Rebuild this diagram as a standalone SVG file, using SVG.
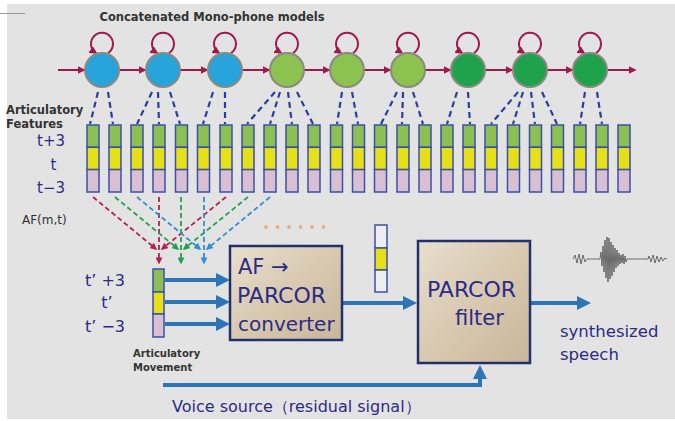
<svg xmlns="http://www.w3.org/2000/svg" xmlns:xlink="http://www.w3.org/1999/xlink" width="675" height="421" viewBox="0 0 675 421">
<style>
.st{stroke:#8a8a80;stroke-width:2}
.blue{fill:#28a4dd}.lg{fill:#8cc24f}.dg{fill:#1fa24c}
.loop{fill:none;stroke:#9e1a4c;stroke-width:2}
.hm{fill:none;stroke:#9e1a4c;stroke-width:2}
.dl{fill:none;stroke:#2b3f9e;stroke-width:2.2;stroke-dasharray:6 4}
.xr{fill:none;stroke:#b5234d;stroke-width:1.8;stroke-dasharray:5 3}
.xg{fill:none;stroke:#22a055;stroke-width:1.8;stroke-dasharray:5 3}
.xb{fill:none;stroke:#2f8fcf;stroke-width:1.8;stroke-dasharray:5 3}
.ba{fill:none;stroke:#2e75b6;stroke-width:4}
.cg{fill:#8cc052}.cy{fill:#e6e019}.cp{fill:#d8c0d2}.cw{fill:#eeeeee}
.bs{stroke:#3b50a8;stroke-width:1.5}
.nav{font-family:"DejaVu Sans","Liberation Sans",sans-serif;fill:#2b2b86}
.lab{font-family:"DejaVu Sans","Liberation Sans",sans-serif;font-weight:bold;fill:#333}
.box{stroke:#22306e;stroke-width:2.5;fill:url(#tan)}
</style>
<defs>
<linearGradient id="tan" x1="0" y1="0" x2="1" y2="1">
<stop offset="0" stop-color="#e8dfcf"/>
<stop offset="0.5" stop-color="#d8c9b0"/>
<stop offset="1" stop-color="#c9b699"/>
</linearGradient>
<marker id="am" markerUnits="userSpaceOnUse" markerWidth="8" markerHeight="8" viewBox="0 0 10 10" refX="8" refY="5" orient="auto"><path d="M0,0 L10,5 L0,10 z" fill="#9e1a4c"/></marker>
<marker id="ar" markerUnits="userSpaceOnUse" markerWidth="7" markerHeight="7" viewBox="0 0 10 10" refX="8" refY="5" orient="auto"><path d="M0,0 L10,5 L0,10 z" fill="#b5234d"/></marker>
<marker id="ag" markerUnits="userSpaceOnUse" markerWidth="7" markerHeight="7" viewBox="0 0 10 10" refX="8" refY="5" orient="auto"><path d="M0,0 L10,5 L0,10 z" fill="#22a055"/></marker>
<marker id="ab" markerUnits="userSpaceOnUse" markerWidth="7" markerHeight="7" viewBox="0 0 10 10" refX="8" refY="5" orient="auto"><path d="M0,0 L10,5 L0,10 z" fill="#2f8fcf"/></marker>
<marker id="abig" markerUnits="userSpaceOnUse" markerWidth="14" markerHeight="14" viewBox="0 0 14 14" refX="1" refY="7" orient="auto"><path d="M0,0 L14,7 L0,14 z" fill="#2e75b6"/></marker>
<g id="afbar">
<rect class="cg bs" x="0" y="125" width="12" height="22.3"/>
<rect class="cy bs" x="0" y="147.3" width="12" height="22.3"/>
<rect class="cp bs" x="0" y="169.6" width="12" height="22.4"/>
</g>
</defs>
<rect x="0" y="0" width="675" height="421" fill="#ffffff"/>
<rect x="7" y="4" width="668" height="415" fill="#e3e3e3"/>
<line x1="0" y1="13.5" x2="25" y2="13.5" stroke="#999" stroke-width="1"/>

<text class="lab" x="212" y="21" font-size="11.5" text-anchor="middle" fill="#444">Concatenated Mono-phone models</text>

<g id="connectors">
<path class="hm" marker-end="url(#am)" d="M58,70 L84,70"/>
<path class="hm" marker-end="url(#am)" d="M119,70 L145,70"/>
<path class="hm" marker-end="url(#am)" d="M180,70 L207,70"/>
<path class="hm" marker-end="url(#am)" d="M242,70 L269,70"/>
<path class="hm" marker-end="url(#am)" d="M304,70 L329,70"/>
<path class="hm" marker-end="url(#am)" d="M364,70 L390,70"/>
<path class="hm" marker-end="url(#am)" d="M425,70 L450,70"/>
<path class="hm" marker-end="url(#am)" d="M485,70 L512,70"/>
<path class="hm" marker-end="url(#am)" d="M547,70 L572,70"/>
<path class="hm" marker-end="url(#am)" d="M607,70 L635,70"/>
<path class="loop" marker-end="url(#am)" d="M108,53 A11 11 0 1 0 96,53"/>
<path class="loop" marker-end="url(#am)" d="M169,53 A11 11 0 1 0 157,53"/>
<path class="loop" marker-end="url(#am)" d="M231,53 A11 11 0 1 0 219,53"/>
<path class="loop" marker-end="url(#am)" d="M293,53 A11 11 0 1 0 281,53"/>
<path class="loop" marker-end="url(#am)" d="M353,53 A11 11 0 1 0 341,53"/>
<path class="loop" marker-end="url(#am)" d="M414,53 A11 11 0 1 0 402,53"/>
<path class="loop" marker-end="url(#am)" d="M474,53 A11 11 0 1 0 462,53"/>
<path class="loop" marker-end="url(#am)" d="M536,53 A11 11 0 1 0 524,53"/>
<path class="loop" marker-end="url(#am)" d="M596,53 A11 11 0 1 0 584,53"/>
<path class="dl" d="M98,92 L90,124 M108,92 L113,124"/>
<path class="dl" d="M152,92 L137,124 M158,92 L159,124 M170,92 L180,124"/>
<path class="dl" d="M213,92 L203,124 M225,92 L225,124"/>
<path class="dl" d="M275,92 L247,124 M280,92 L270,124 M288,92 L292,124 M297,92 L313,124"/>
<path class="dl" d="M342,92 L337,124 M352,92 L358,124"/>
<path class="dl" d="M397,92 L381,124 M403,92 L402,124 M413,92 L423,124"/>
<path class="dl" d="M457,92 L447,124 M468,92 L470,124"/>
<path class="dl" d="M518,92 L491,124 M523,92 L513,124 M531,92 L535,124 M542,92 L557,124"/>
<path class="dl" d="M585,92 L580,124 M597,92 L602,124"/>
<path class="xr" marker-end="url(#ar)" d="M93,197 L156,249"/>
<path class="xr" marker-end="url(#ar)" d="M159,197 L159,263"/>
<path class="xr" marker-end="url(#ar)" d="M226,197 L162,249"/>
<path class="xg" marker-end="url(#ag)" d="M115,197 L178,249"/>
<path class="xg" marker-end="url(#ag)" d="M181,197 L181,263"/>
<path class="xg" marker-end="url(#ag)" d="M248,197 L184,249"/>
<path class="xb" marker-end="url(#ab)" d="M137,197 L200,249"/>
<path class="xb" marker-end="url(#ab)" d="M204,197 L204,263"/>
<path class="xb" marker-end="url(#ab)" d="M270,197 L207,249"/>
<path class="ba" marker-end="url(#abig)" d="M165,280 L217,280"/>
<path class="ba" marker-end="url(#abig)" d="M165,302 L217,302"/>
<path class="ba" marker-end="url(#abig)" d="M165,324 L217,324"/>
<path class="ba" marker-end="url(#abig)" d="M343,303 L404,303"/>
<path class="ba" marker-end="url(#abig)" d="M531,303 L578,303"/>
<path class="ba" marker-end="url(#abig)" d="M163,385 L480,385 L480,378"/>
</g>

<g id="states">
<circle id="s1" class="blue st" cx="102" cy="70" r="17"/>
<circle id="s2" class="blue st" cx="163" cy="70" r="17"/>
<circle id="s3" class="blue st" cx="225" cy="70" r="17"/>
<circle id="s4" class="lg st" cx="287" cy="70" r="17"/>
<circle id="s5" class="lg st" cx="347" cy="70" r="17"/>
<circle id="s6" class="lg st" cx="408" cy="70" r="17"/>
<circle id="s7" class="dg st" cx="468" cy="70" r="17"/>
<circle id="s8" class="dg st" cx="530" cy="70" r="17"/>
<circle id="s9" class="dg st" cx="590" cy="70" r="17"/>
</g>

<g id="features">
<use xlink:href="#afbar" x="87"/>
<use xlink:href="#afbar" x="109"/>
<use xlink:href="#afbar" x="131"/>
<use xlink:href="#afbar" x="153"/>
<use xlink:href="#afbar" x="175.5"/>
<use xlink:href="#afbar" x="197.5"/>
<use xlink:href="#afbar" x="220"/>
<use xlink:href="#afbar" x="242"/>
<use xlink:href="#afbar" x="264"/>
<use xlink:href="#afbar" x="286"/>
<use xlink:href="#afbar" x="308"/>
<use xlink:href="#afbar" x="330.5"/>
<use xlink:href="#afbar" x="352.5"/>
<use xlink:href="#afbar" x="374.5"/>
<use xlink:href="#afbar" x="397"/>
<use xlink:href="#afbar" x="419"/>
<use xlink:href="#afbar" x="441"/>
<use xlink:href="#afbar" x="463"/>
<use xlink:href="#afbar" x="485"/>
<use xlink:href="#afbar" x="507.5"/>
<use xlink:href="#afbar" x="529.5"/>
<use xlink:href="#afbar" x="551.5"/>
<use xlink:href="#afbar" x="574"/>
<use xlink:href="#afbar" x="596"/>
<use xlink:href="#afbar" x="618"/>
</g>

<g id="feature-labels">
<text class="lab" x="6" y="114" font-size="11.5">Articulatory</text>
<text class="lab" x="6" y="128" font-size="11.5">Features</text>
<text class="nav" x="51" y="146" font-size="15" text-anchor="middle">t+3</text>
<text class="nav" x="53.5" y="170" font-size="15" text-anchor="middle">t</text>
<text class="nav" x="51" y="193" font-size="15" text-anchor="middle">t−3</text>
<text x="22" y="224" font-size="12" fill="#333" font-family="DejaVu Sans, Liberation Sans, sans-serif">AF(m,t)</text>
</g>

<g id="dots" fill="#e0b478">
<circle cx="266" cy="227" r="1.9"/><circle cx="277.5" cy="227" r="1.9"/><circle cx="289" cy="227" r="1.9"/>
<circle cx="300.5" cy="227" r="1.9"/><circle cx="312" cy="227" r="1.9"/><circle cx="323.5" cy="227" r="1.9"/>
</g>

<g id="movement">
<rect class="cg bs" x="153" y="269" width="11" height="23"/>
<rect class="cy bs" x="153" y="292" width="11" height="22"/>
<rect class="cp bs" x="153" y="314" width="11" height="23"/>
<text class="nav" x="105" y="286" font-size="16" text-anchor="middle">t’ +3</text>
<text class="nav" x="107" y="308" font-size="16" text-anchor="middle">t’</text>
<text class="nav" x="105" y="332" font-size="16" text-anchor="middle">t’ −3</text>
<text class="lab" x="133" y="357" font-size="10">Articulatory</text>
<text class="lab" x="133" y="371" font-size="10">Movement</text>
</g>

<g id="af-parcor">
<rect class="box" x="230" y="246" width="112" height="94"/>
<text class="nav" x="238" y="274" font-size="21">AF →</text>
<text class="nav" x="237" y="303" font-size="22">PARCOR</text>
<text class="nav" x="238" y="331" font-size="20">converter</text>
</g>

<g id="parcor-vector">
<rect class="cw bs" x="375" y="225" width="12" height="23"/>
<rect class="cy bs" x="375" y="248" width="12" height="22"/>
<rect class="cw bs" x="375" y="270" width="12" height="22"/>
</g>

<g id="parcor-filter">
<rect class="box" x="418" y="241" width="112" height="122"/>
<text class="nav" x="427" y="297" font-size="22">PARCOR</text>
<text class="nav" x="455" y="325" font-size="21">filter</text>
</g>

<g id="output">
<path fill="none" stroke="#555" stroke-width="1" opacity="0.85" d="M573,259 L575,255 L577,263 L579,254 L581,264 L583,255 L585,262 L587,259 L600,259 L601,252 L602,266 L603,246 L604,272 L605,240 L606,278 L607,237 L608,282 L609,238 L610,279 L611,242 L612,276 L613,245 L614,272 L615,248 L616,268 L617,250 L618,266 L619,253 L620,264 L621,255 L622,263 L623,254 L624,264 L625,256 L626,262 L627,259 L648,259 L649,256 L651,262 L653,255 L655,263 L657,256 L659,262 L661,257 L663,261 L665,258 L667,259"/>
<text class="nav" x="560" y="337" font-size="16.5">synthesized</text>
<text class="nav" x="560" y="360" font-size="16.5">speech</text>
</g>

<g id="voice-source">
<text class="nav" x="172" y="412" font-size="16" font-family="DejaVu Sans, 'Noto Sans CJK JP', sans-serif">Voice source（residual signal）</text>
</g>
</svg>
